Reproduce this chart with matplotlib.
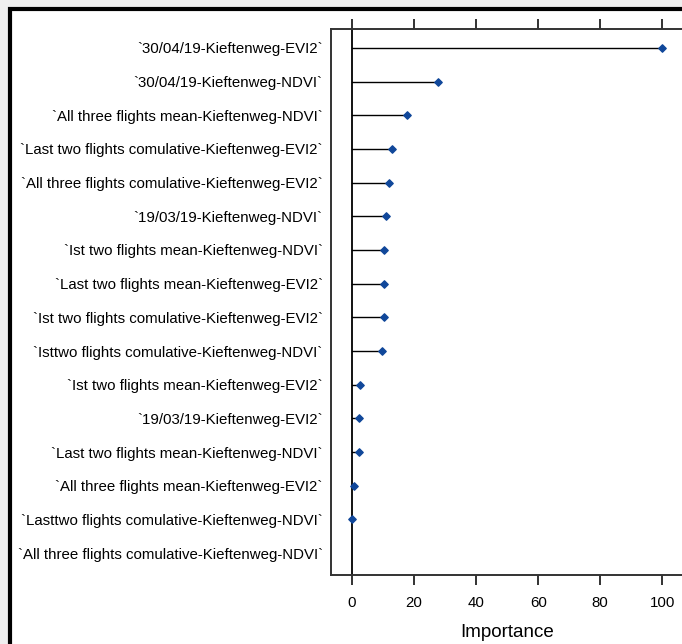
import numpy as np
import matplotlib.pyplot as plt
from matplotlib.patches import Rectangle

plt.rcParams['font.family'] = ['Liberation Sans', 'DejaVu Sans']

# Variables (de arriba hacia abajo) e importancia
variables = [
    "`30/04/19-Kieftenweg-EVI2`",
    "`30/04/19-Kieftenweg-NDVI`",
    "`All three flights mean-Kieftenweg-NDVI`",
    "`Last two flights comulative-Kieftenweg-EVI2`",
    "`All three flights comulative-Kieftenweg-EVI2`",
    "`19/03/19-Kieftenweg-NDVI`",
    "`Ist two flights mean-Kieftenweg-NDVI`",
    "`Last two flights mean-Kieftenweg-EVI2`",
    "`Ist two flights comulative-Kieftenweg-EVI2`",
    "`Isttwo flights comulative-Kieftenweg-NDVI`",
    "`Ist two flights mean-Kieftenweg-EVI2`",
    "`19/03/19-Kieftenweg-EVI2`",
    "`Last two flights mean-Kieftenweg-NDVI`",
    "`All three flights mean-Kieftenweg-EVI2`",
    "`Lasttwo flights comulative-Kieftenweg-NDVI`",
    "`All three flights comulative-Kieftenweg-NDVI`",
]
importancia = [100, 27.6, 17.8, 12.8, 11.8, 10.9, 10.4, 10.3, 10.3, 9.8,
               2.6, 2.3, 2.3, 0.7, 0.0, np.nan]

ticks_x = [0, 20, 40, 60, 80, 100]

fig = plt.figure(figsize=(6.82, 6.44), dpi=100)
fig.patch.set_facecolor('#efefef')

# marco negro de la captura
fig.patches.append(Rectangle((9.5/682, -0.1), 1.2, (644-9.5)/644 + 0.1,
                             transform=fig.transFigure, facecolor='white',
                             edgecolor='black', linewidth=3, zorder=-10))

ax = fig.add_axes([331/682, 69/644, 353/682, 546/644])
ax.set_facecolor('white')

n = len(variables)
y = np.arange(n, 0, -1)

for yi, v in zip(y, importancia):
    if not np.isnan(v):
        ax.plot([0, v], [yi, yi], color='black', linewidth=1.0)

ax.axvline(0, color='black', linewidth=1.3)
ax.scatter(importancia, y, marker='D', s=14, color='#10479a', zorder=3)

ax.set_xlim(-6.8, 107)
ax.set_ylim(0.35, n + 0.56)

ax.set_yticks(y)
ax.set_yticklabels(variables, fontsize=10.8)
ax.tick_params(axis='y', length=0, pad=6)

ax.set_xticks(ticks_x)
ax.set_xticklabels([str(t) for t in ticks_x], fontsize=10.8)
ax.tick_params(axis='x', top=True, bottom=True, direction='out', length=7,
               width=1.3, pad=8, color='#222222')
ax.set_xlabel('Importance', fontsize=13.5, labelpad=10)

for s in ax.spines.values():
    s.set_color('#333333')
    s.set_linewidth(1.4)

fig.savefig('out.png', dpi=100, facecolor=fig.get_facecolor())
